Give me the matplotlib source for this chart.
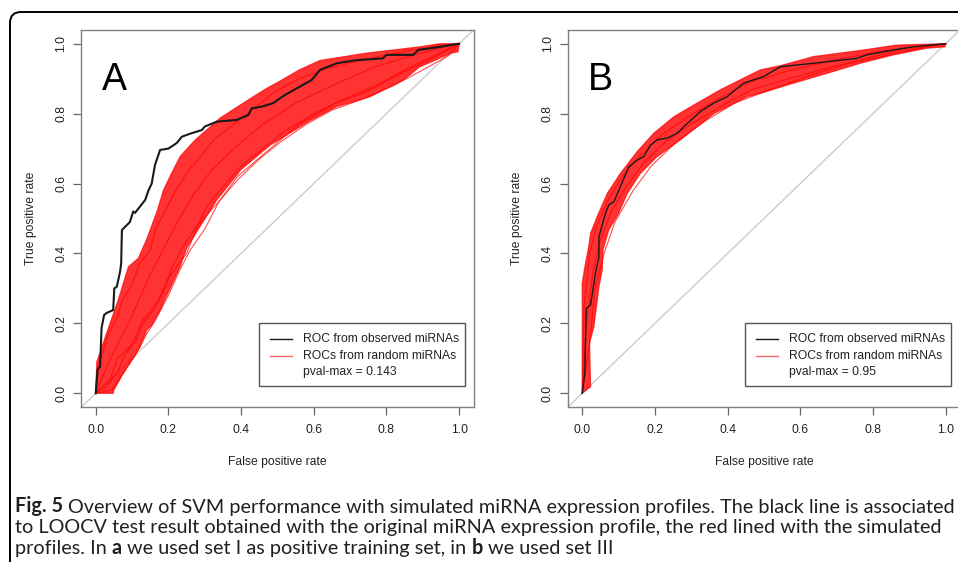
import numpy as np
import matplotlib
matplotlib.use("Agg")
import matplotlib.pyplot as plt
from matplotlib.patches import FancyBboxPatch, Rectangle

plt.rcParams["font.family"] = ["Liberation Sans", "DejaVu Sans"]

W, H = 958, 562
TICKS = [0.0, 0.2, 0.4, 0.6, 0.8, 1.0]

# panel A: observed ROC (black)
obs_a_x = [0, 0.005, 0.012, 0.016, 0.023, 0.030, 0.048, 0.051, 0.058, 0.067, 0.070, 0.072,
           0.094, 0.103, 0.108, 0.136, 0.145, 0.154, 0.163, 0.177, 0.200, 0.223, 0.237,
           0.264, 0.292, 0.300, 0.333, 0.388, 0.420, 0.429, 0.457, 0.488, 0.507, 0.520,
           0.594, 0.617, 0.663, 0.718, 0.790, 0.800, 0.874, 0.887, 0.947, 0.993, 1.0]
obs_a_y = [0, 0.067, 0.076, 0.187, 0.224, 0.230, 0.238, 0.300, 0.305, 0.348, 0.372, 0.467,
           0.490, 0.520, 0.516, 0.553, 0.580, 0.600, 0.653, 0.696, 0.700, 0.716, 0.734,
           0.744, 0.753, 0.763, 0.777, 0.782, 0.796, 0.815, 0.820, 0.830, 0.844, 0.853,
           0.896, 0.925, 0.944, 0.953, 0.958, 0.968, 0.968, 0.982, 0.991, 0.999, 1.0]

# panel A: envelope of the random ROCs
rnd_a_hi_x = [0, 0.003, 0.030, 0.062, 0.090, 0.117, 0.140, 0.170, 0.186, 0.209, 0.232, 0.273,
              0.342, 0.370, 0.433, 0.470, 0.507, 0.560, 0.617, 0.745, 0.892, 0.947, 1.0]
rnd_a_hi_y = [0, 0.090, 0.172, 0.267, 0.362, 0.386, 0.440, 0.524, 0.580, 0.630, 0.677, 0.724,
              0.787, 0.806, 0.848, 0.872, 0.893, 0.925, 0.952, 0.973, 0.991, 1.0, 1.0]
rnd_a_lo_x = [0, 0.048, 0.050, 0.076, 0.122, 0.140, 0.154, 0.177, 0.232, 0.250, 0.287, 0.333,
              0.400, 0.480, 0.590, 0.663, 0.754, 0.846, 0.892, 0.979, 0.997, 1.0]
rnd_a_lo_y = [0, 0.000, 0.010, 0.057, 0.133, 0.180, 0.195, 0.238, 0.362, 0.415, 0.477, 0.553,
              0.640, 0.710, 0.780, 0.820, 0.848, 0.896, 0.934, 0.973, 0.977, 1.0]

# panel A: a few single random ROCs inside the bundle
rnd_a_curves = [
    ([0, 0.004, 0.02, 0.035, 0.06, 0.075, 0.10, 0.12, 0.15, 0.165, 0.19, 0.215, 0.25, 0.29, 0.33, 0.38, 0.43, 0.49, 0.56, 0.64, 0.74, 0.86, 0.95, 1],
     [0, 0.07, 0.12, 0.17, 0.22, 0.27, 0.31, 0.37, 0.41, 0.47, 0.52, 0.57, 0.63, 0.68, 0.73, 0.77, 0.81, 0.86, 0.90, 0.93, 0.955, 0.98, 0.995, 1]),
    ([0, 0.03, 0.06, 0.08, 0.11, 0.13, 0.16, 0.19, 0.21, 0.24, 0.28, 0.31, 0.35, 0.40, 0.46, 0.52, 0.60, 0.68, 0.77, 0.86, 0.94, 1],
     [0, 0.02, 0.06, 0.11, 0.15, 0.20, 0.24, 0.30, 0.36, 0.42, 0.48, 0.54, 0.59, 0.65, 0.70, 0.75, 0.80, 0.84, 0.88, 0.93, 0.97, 1]),
    ([0, 0.02, 0.05, 0.09, 0.12, 0.15, 0.19, 0.23, 0.27, 0.32, 0.38, 0.46, 0.55, 0.65, 0.76, 0.88, 1],
     [0, 0.05, 0.12, 0.20, 0.27, 0.34, 0.42, 0.50, 0.57, 0.64, 0.70, 0.77, 0.83, 0.88, 0.93, 0.97, 1]),
    ([0, 0.04, 0.06, 0.10, 0.13, 0.17, 0.20, 0.25, 0.28, 0.34, 0.39, 0.48, 0.56, 0.66, 0.74, 0.85, 0.95, 1],
     [0, 0.04, 0.10, 0.14, 0.21, 0.26, 0.33, 0.40, 0.48, 0.55, 0.62, 0.70, 0.77, 0.83, 0.86, 0.92, 0.97, 1]),
    ([0, 0.045, 0.07, 0.11, 0.14, 0.165, 0.20, 0.23, 0.26, 0.30, 0.34, 0.39, 0.45, 0.51, 0.58, 0.65, 0.73, 0.82, 0.90, 0.97, 1],
     [0, 0.01, 0.05, 0.11, 0.17, 0.21, 0.28, 0.35, 0.41, 0.47, 0.55, 0.61, 0.67, 0.72, 0.77, 0.81, 0.84, 0.88, 0.925, 0.965, 1]),
]

# panel B: observed ROC (black)
obs_b_x = [0, 0.007, 0.011, 0.023, 0.037, 0.046, 0.046, 0.064, 0.073, 0.087, 0.105, 0.128,
           0.151, 0.169, 0.188, 0.206, 0.234, 0.261, 0.284, 0.325, 0.362, 0.398, 0.444,
           0.499, 0.545, 0.636, 0.755, 0.783, 0.856, 0.911, 1.0]
obs_b_y = [0, 0.057, 0.243, 0.253, 0.348, 0.390, 0.448, 0.515, 0.539, 0.548, 0.591, 0.648,
           0.667, 0.677, 0.710, 0.725, 0.730, 0.744, 0.767, 0.806, 0.830, 0.848, 0.887,
           0.906, 0.934, 0.944, 0.958, 0.968, 0.982, 0.991, 1.0]

rnd_b_hi_x = [0, 0.0, 0.009, 0.018, 0.023, 0.041, 0.069, 0.105, 0.151, 0.197, 0.252, 0.316,
              0.380, 0.453, 0.490, 0.545, 0.636, 0.774, 0.865, 1.0]
rnd_b_hi_y = [0, 0.315, 0.372, 0.420, 0.458, 0.505, 0.572, 0.629, 0.691, 0.744, 0.791, 0.830,
              0.868, 0.906, 0.925, 0.937, 0.963, 0.982, 0.996, 1.0]
rnd_b_lo_x = [0, 0.023, 0.020, 0.032, 0.046, 0.055, 0.057, 0.073, 0.100, 0.124, 0.160, 0.206,
              0.270, 0.362, 0.453, 0.490, 0.581, 0.673, 0.765, 0.856, 0.948, 0.998, 1.0]
rnd_b_lo_y = [0, 0.019, 0.144, 0.190, 0.305, 0.353, 0.410, 0.467, 0.515, 0.572, 0.629, 0.677,
              0.725, 0.800, 0.848, 0.858, 0.887, 0.915, 0.944, 0.968, 0.987, 0.991, 1.0]

rnd_b_curves = [
    ([0, 0.005, 0.02, 0.04, 0.07, 0.11, 0.16, 0.22, 0.29, 0.37, 0.46, 0.56, 0.68, 0.80, 0.90, 1],
     [0, 0.25, 0.40, 0.48, 0.55, 0.62, 0.68, 0.74, 0.79, 0.84, 0.89, 0.92, 0.95, 0.975, 0.99, 1]),
    ([0, 0.012, 0.03, 0.05, 0.08, 0.12, 0.17, 0.23, 0.30, 0.38, 0.47, 0.57, 0.69, 0.81, 0.92, 1],
     [0, 0.20, 0.35, 0.44, 0.52, 0.59, 0.66, 0.72, 0.77, 0.82, 0.87, 0.90, 0.935, 0.96, 0.985, 1]),
    ([0, 0.02, 0.035, 0.06, 0.09, 0.14, 0.19, 0.26, 0.34, 0.42, 0.52, 0.63, 0.75, 0.87, 1],
     [0, 0.14, 0.30, 0.40, 0.49, 0.58, 0.65, 0.72, 0.78, 0.83, 0.87, 0.91, 0.95, 0.98, 1]),
]

pvals = ["pval-max = 0.143", "pval-max = 0.95"]
letters = ["A", "B"]
leg_labels = ["ROC from observed miRNAs", "ROCs from random miRNAs"]

caption = [
    [("Fig. 5", "bold"), ("Overview of SVM performance with simulated miRNA expression profiles. "
                          "The black line is associated", "normal")],
    [("to LOOCV test result obtained with the original miRNA expression profile, "
      "the red lined with the simulated", "normal")],
    [("profiles. In", "normal"), ("a", "bold"), ("we used set I as positive training set, in", "normal"),
     ("b", "bold"), ("we used set III", "normal")],
]

fig = plt.figure(figsize=(W / 100, H / 100), dpi=100)

# panel boxes in pixels: left, top, right, bottom
boxes = [(81.2, 29.7, 473.7, 407.3), (567.7, 29.7, 960.2, 407.3)]
panels = [
    (obs_a_x, obs_a_y, rnd_a_hi_x, rnd_a_hi_y, rnd_a_lo_x, rnd_a_lo_y, rnd_a_curves, 1.5),
    (obs_b_x, obs_b_y, rnd_b_hi_x, rnd_b_hi_y, rnd_b_lo_x, rnd_b_lo_y, rnd_b_curves, 1.0),
]

for i, (box, p) in enumerate(zip(boxes, panels)):
    l, t, r, b = box
    ax = fig.add_axes([l / W, 1 - b / H, (r - l) / W, (b - t) / H])
    ox, oy, hx, hy, lx, ly, curves, lw = p
    ax.plot([-0.04, 1.04], [-0.04, 1.04], color="#cccccc", lw=1, zorder=1)
    px = list(hx) + list(lx)[::-1]
    py = list(hy) + list(ly)[::-1]
    ax.fill(px, py, color="#ff0000", alpha=0.8, lw=0, zorder=2)
    ax.plot(hx, hy, color="#ff0000", lw=0.9, alpha=0.7, zorder=3)
    ax.plot(lx, ly, color="#ff0000", lw=0.9, alpha=0.7, zorder=3)
    for cx, cy in curves:
        ax.plot(cx, cy, color="#ff0000", lw=0.8, alpha=0.7, zorder=3)
    ax.plot(ox, oy, color="#1a1a1a", lw=lw, zorder=4)
    ax.set_xlim(-0.04, 1.04)
    ax.set_ylim(-0.04, 1.04)
    ax.set_xticks(TICKS)
    ax.set_yticks(TICKS)
    ax.set_xticklabels(["%.1f" % v for v in TICKS])
    ax.set_yticklabels(["%.1f" % v for v in TICKS], rotation=90, va="center")
    ax.tick_params(direction="out", length=5.8, width=0.9, color="#666666",
                   labelsize=8.7, labelcolor="#222222")
    ax.tick_params(axis="x", pad=6.5)
    ax.tick_params(axis="y", pad=4.3)
    for s in ax.spines.values():
        s.set_color("#808080")
        s.set_linewidth(1.0)
    ax.text(0.5, -0.1457, "False positive rate", transform=ax.transAxes,
            ha="center", va="center", fontsize=8.7, color="#222222")
    ax.text(-0.128, 0.501, "True positive rate", transform=ax.transAxes, rotation=90,
            ha="center", va="center", fontsize=8.7, color="#222222")
    ax.text(0.054 - 0.003 * i, 0.840, letters[i], transform=ax.transAxes,
            ha="left", va="baseline", fontsize=27, color="black")

# overlay in pixel coordinates for legend boxes, border and caption
ov = fig.add_axes([0, 0, 1, 1], zorder=10)
ov.set_xlim(0, W)
ov.set_ylim(H, 0)
ov.axis("off")
ov.patch.set_alpha(0)

for i in range(2):
    dx = 486.0 * i
    ov.add_patch(Rectangle((259.3 + dx, 323.3), 205.5, 62.7, fc="white", ec="#555555", lw=1.0))
    ov.plot([270 + dx, 292 + dx], [339.3, 339.3], color="#1a1a1a", lw=1.0)
    ov.plot([270 + dx, 292 + dx], [355.7, 355.7], color="#ff0000", lw=1.0, alpha=0.6)
    for j, txt in enumerate(leg_labels + [pvals[i]]):
        ov.text(303.3 + dx, [339.3, 355.7, 371.5][j], txt, ha="left", va="center",
                fontsize=8.7, color="#222222")

ov.add_patch(FancyBboxPatch((10, 12), 1000, 600, boxstyle="round,pad=0,rounding_size=11",
                            fill=False, ec="black", lw=1.4))

cap_font = ["Lato", "DejaVu Sans"]
renderer = fig.canvas.get_renderer()


def run_width(runs, size):
    tot = 0.0
    tmp = []
    for txt, wt in runs:
        tt = ov.text(0, 100, txt, fontsize=size, fontweight=wt, family=cap_font)
        tot += tt.get_window_extent(renderer=renderer).width
        tmp.append(tt)
    sp = ov.text(0, 100, "x x", fontsize=size, family=cap_font)
    nsp = ov.text(0, 100, "xx", fontsize=size, family=cap_font)
    gap = sp.get_window_extent(renderer=renderer).width - nsp.get_window_extent(renderer=renderer).width
    for tt in tmp + [sp, nsp]:
        tt.remove()
    return tot + gap * (len(runs) - 1), gap


w10, _ = run_width(caption[0], 10)
cap_size = 10 * (954 - 15) / w10
_, gap = run_width(caption[0], cap_size)

for k, runs in enumerate(caption):
    x = 15
    y = [512.5, 533.5, 554][k]
    for txt, wt in runs:
        tt = ov.text(x, y, txt, fontsize=cap_size, fontweight=wt, family=cap_font,
                     ha="left", va="baseline", color="#231f20")
        x += tt.get_window_extent(renderer=renderer).width + gap

fig.savefig("out.png", dpi=100)
